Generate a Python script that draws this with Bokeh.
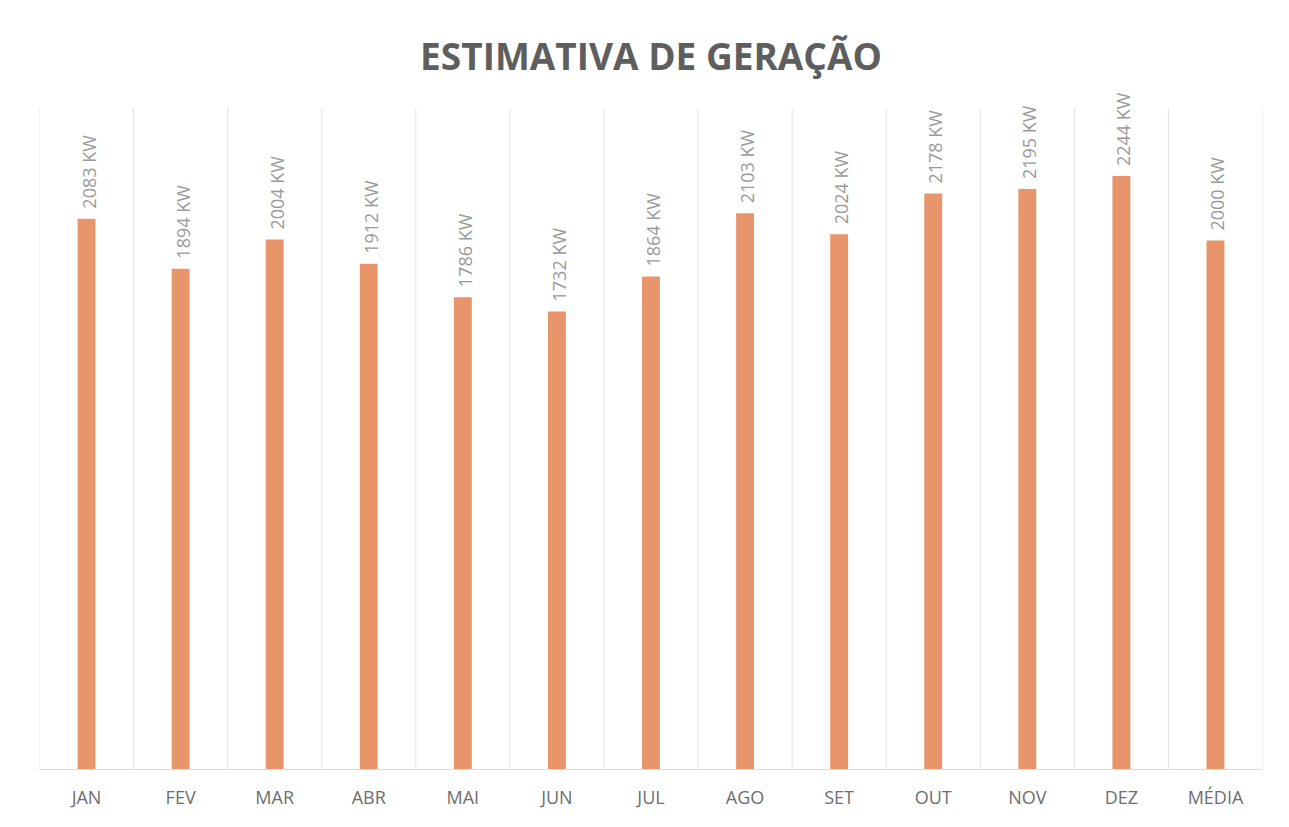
import math
from bokeh.plotting import figure
from bokeh.models import Range1d, FixedTicker, ColumnDataSource, LabelSet
from bokeh.core.properties import value
from bokeh.embed import file_html
from bokeh.resources import INLINE

months = ["JAN", "FEV", "MAR", "ABR", "MAI", "JUN", "JUL", "AGO", "SET", "OUT", "NOV", "DEZ", "MÉDIA"]
generation_kw = [2083, 1894, 2004, 1912, 1786, 1732, 1864, 2103, 2024, 2178, 2195, 2244, 2000]
value_labels = [f"{v} KW" for v in generation_kw]
title_text = "ESTIMATIVA DE GERAÇÃO"
axis_max = 2500

xs = list(range(len(months)))
source = ColumnDataSource(data=dict(x=xs, top=generation_kw, label=value_labels))
bounds = [i - 0.5 for i in range(len(months) + 1)]
grid_src = ColumnDataSource(data=dict(x=bounds, y0=[0] * len(bounds), y1=[axis_max] * len(bounds)))

p = figure(width=1273, height=811, output_backend="svg", toolbar_location=None,
           x_range=Range1d(-0.5, len(months) - 0.5), y_range=Range1d(0, 2560),
           min_border_left=39, min_border_right=11, min_border_top=92, min_border_bottom=40,
           title=title_text)
p.background_fill_color = "white"
p.border_fill_color = "white"
p.outline_line_color = None

p.title.align = "center"
p.title.text_font = "Open Sans"
p.title.text_font_size = "37px"
p.title.text_font_style = "bold"
p.title.text_color = "#5E5E5E"
p.title.standoff = 24

# vertical category separators (Excel-like gridlines), limited to the value axis maximum
p.segment(x0="x", x1="x", y0="y0", y1="y1", source=grid_src, line_color="#E4E4E4", line_width=1)

p.vbar(x="x", top="top", bottom=0, width=0.19, source=source,
       fill_color="#E8956B", line_color=None)
labels = LabelSet(x="x", y="top", text="label", source=source, angle=math.pi / 2,
                  text_align="left", text_baseline="middle", y_offset=10, x_offset=2,
                  text_font=value("Open Sans"), text_font_size=value("18px"), text_color="#9A9A9A")
p.add_layout(labels)

p.yaxis.visible = False
p.ygrid.visible = False
p.xgrid.visible = False

p.xaxis.ticker = FixedTicker(ticks=xs)
p.xaxis.major_label_overrides = {i: m for i, m in zip(xs, months)}
p.xaxis.major_tick_line_color = None
p.xaxis.minor_tick_line_color = None
p.xaxis.axis_line_color = "#DCDCDC"
p.xaxis.major_label_text_font = "Open Sans"
p.xaxis.major_label_text_font_size = "18px"
p.xaxis.major_label_text_color = "#6E6E6E"
p.xaxis.major_label_standoff = 9

open("out.html", "w").write(file_html(p, INLINE))
